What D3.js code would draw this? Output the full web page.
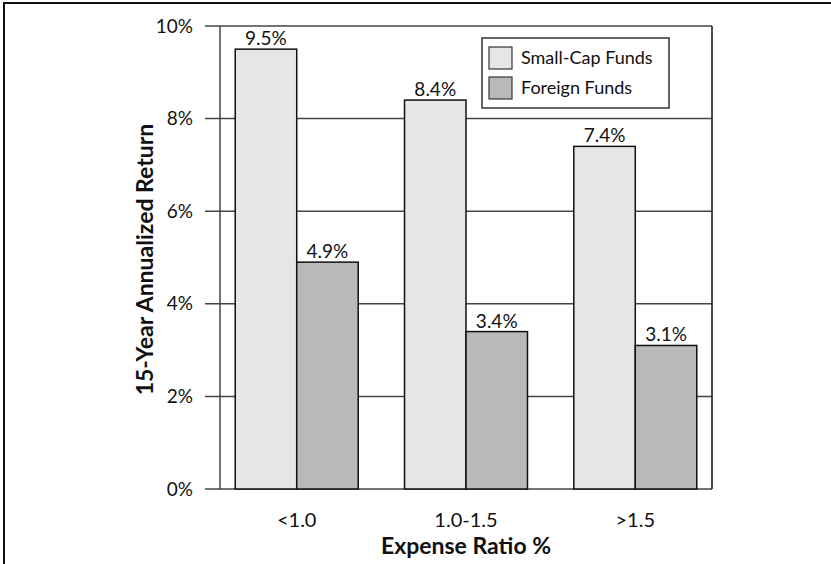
<!DOCTYPE html>
<meta charset="utf-8">
<style>
  html, body { margin: 0; background: #fff; }
  svg text { font-family: Lato, "Open Sans", sans-serif; fill: #111; }
</style>
<body>
<script src="https://d3js.org/d3.v7.min.js"></script>
<script>
  // chart values
  var categories = ["<1.0", "1.0-1.5", ">1.5"];
  var seriesNames = ["Small-Cap Funds", "Foreign Funds"];
  var smallCap = [9.5, 8.4, 7.4];
  var foreign = [4.9, 3.4, 3.1];
  var yTicks = [0, 2, 4, 6, 8, 10];

  var colors = ["#e6e6e6", "#b9b9b9"];
  var W = 831, H = 564;
  var margin = { top: 26, right: 119, bottom: 75, left: 220 };
  var width = W - margin.left - margin.right,
      height = H - margin.top - margin.bottom;

  var svg = d3.select("body").append("svg")
    .attr("width", W).attr("height", H);

  // outer frame (runs off the right and bottom of the picture)
  svg.append("path")
    .attr("d", "M4," + H + "V3H" + W)
    .attr("fill", "none").attr("stroke", "#111").attr("stroke-width", 2);

  var g = svg.append("g")
    .attr("transform", "translate(" + margin.left + "," + margin.top + ")");

  var x0 = d3.scaleBand().domain(categories).range([0, width])
    .paddingInner(0.2735).paddingOuter(0.09);
  var x1 = d3.scaleBand().domain(seriesNames).range([0, x0.bandwidth()]);
  var y = d3.scaleLinear().domain([0, 10]).range([height, 0]);

  // gridlines with tick marks sticking out left
  g.selectAll(".grid").data(yTicks).enter().append("line")
    .attr("x1", -15).attr("x2", width)
    .attr("y1", function (d) { return y(d); })
    .attr("y2", function (d) { return y(d); })
    .attr("stroke", "#444").attr("stroke-width", 1.5);

  // y tick labels
  g.selectAll(".ylab").data(yTicks).enter().append("text")
    .attr("x", -27).attr("y", function (d) { return y(d); })
    .attr("dy", "0.35em").attr("text-anchor", "end")
    .style("font-size", "19px")
    .text(function (d) { return d + "%"; });

  // plot borders left and right
  g.append("line").attr("x1", 0).attr("x2", 0).attr("y1", 0).attr("y2", height)
    .attr("stroke", "#444").attr("stroke-width", 1.5);
  g.append("line").attr("x1", width).attr("x2", width).attr("y1", 0).attr("y2", height)
    .attr("stroke", "#111").attr("stroke-width", 1.5);

  var rows = [];
  categories.forEach(function (c, i) {
    rows.push({ cat: c, s: seriesNames[0], v: smallCap[i], k: 0 });
    rows.push({ cat: c, s: seriesNames[1], v: foreign[i], k: 1 });
  });

  g.selectAll(".bar").data(rows).enter().append("rect")
    .attr("x", function (d) { return x0(d.cat) + x1(d.s); })
    .attr("y", function (d) { return y(d.v); })
    .attr("width", x1.bandwidth())
    .attr("height", function (d) { return height - y(d.v); })
    .attr("fill", function (d) { return colors[d.k]; })
    .attr("stroke", "#111").attr("stroke-width", 1.5);

  g.selectAll(".vlab").data(rows).enter().append("text")
    .attr("x", function (d) { return x0(d.cat) + x1(d.s) + x1.bandwidth() / 2; })
    .attr("y", function (d) { return y(d.v) - 4; })
    .attr("text-anchor", "middle")
    .style("font-size", "19px")
    .text(function (d) { return d.v.toFixed(1) + "%"; });

  // x category labels
  g.selectAll(".xlab").data(categories).enter().append("text")
    .attr("x", function (d) { return x0(d) + x0.bandwidth() / 2; })
    .attr("y", height + 38)
    .attr("text-anchor", "middle")
    .style("font-size", "20px")
    .text(function (d) { return d; });

  // axis titles
  g.append("text")
    .attr("x", width / 2).attr("y", height + 65)
    .attr("text-anchor", "middle")
    .style("font-size", "23px").style("font-weight", "bold")
    .text("Expense Ratio %");

  g.append("text")
    .attr("transform", "translate(-67," + (height / 2 + 2) + ") rotate(-90)")
    .attr("text-anchor", "middle")
    .style("font-size", "23px").style("font-weight", "bold")
    .text("15-Year Annualized Return");

  // legend
  var lg = svg.append("g").attr("transform", "translate(482,38)");
  lg.append("rect").attr("width", 187).attr("height", 70)
    .attr("fill", "#fff").attr("stroke", "#333").attr("stroke-width", 1.5);
  seriesNames.forEach(function (s, i) {
    lg.append("rect")
      .attr("x", 7).attr("y", 9 + i * 30).attr("width", 23).attr("height", 22)
      .attr("fill", colors[i]).attr("stroke", "#333").attr("stroke-width", 1.2);
    lg.append("text")
      .attr("x", 39).attr("y", 20 + i * 30).attr("dy", "0.35em")
      .style("font-size", "18px")
      .text(s);
  });
</script>
</body>
